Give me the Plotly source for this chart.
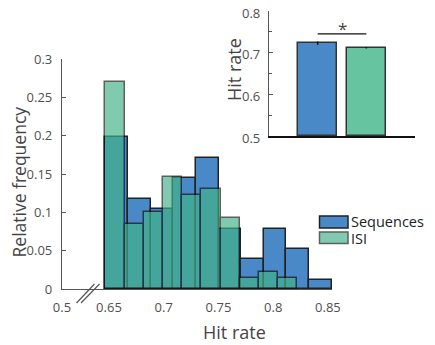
import plotly.graph_objects as go

# ---------------- data ----------------
seq_edges = [0.6468, 0.6675, 0.6881, 0.7088, 0.7294, 0.7501, 0.7708, 0.7914, 0.8121, 0.8327, 0.8534]
seq_freq = [0.198, 0.118, 0.105, 0.145, 0.171, 0.078, 0.039, 0.078, 0.052, 0.012]
isi_edges = [0.6468, 0.6643, 0.6818, 0.6994, 0.7169, 0.7344, 0.7519, 0.7694, 0.7870, 0.8045, 0.8220]
isi_freq = [0.270, 0.085, 0.100, 0.146, 0.123, 0.131, 0.092, 0.014, 0.022, 0.014]

x_tick_vals = [0.6071, 0.65, 0.70, 0.75, 0.80, 0.85]
x_tick_text = ["0.5", "0.65", "0.7", "0.75", "0.8", "0.85"]
y_tick_vals = [0, 0.05, 0.1, 0.15, 0.2, 0.25, 0.3]
y_tick_text = ["0", "0.05", "0.1", "0.15", "0.2", "0.25", "0.3"]

inset_groups = ["Sequences", "ISI"]
inset_pos = [1, 2]
inset_means = [0.723, 0.712]
inset_err = [0.004, 0.002]
inset_base = 0.5
inset_ticks = [0.5, 0.6, 0.7, 0.8]
sig_y = 0.745

# ---------------- style ----------------
BLUE = "#4A89C8"
GREEN = "rgb(66,179,136)"
GREEN_OPA = 0.67
INSET_GREEN = "#66C4A0"
FONT = "Open Sans"
TICK_C = "#505050"
TITLE_C = "#444444"

# page is rendered with an 8px body margin: figure origin sits at page (8, 8)
OFF = 8
W, H = 435 - OFF, 345 - OFF
ML, MR, MT, MB = 62 - OFF, 20, 11 - OFF, 56
PW, PH = W - ML - MR, H - MT - MB


def px(xp):
    """page x pixel -> paper fraction"""
    return (xp - OFF - ML) / PW


def py(yp):
    """page y pixel -> paper fraction"""
    return (H - MB - (yp - OFF)) / PH


def centers(edges):
    return [(edges[i] + edges[i + 1]) / 2 for i in range(len(edges) - 1)]


def widths(edges):
    return [edges[i + 1] - edges[i] for i in range(len(edges) - 1)]


fig = go.Figure()

fig.add_trace(go.Bar(
    x=centers(seq_edges), y=seq_freq, width=widths(seq_edges),
    marker=dict(color=BLUE, line=dict(color="#222222", width=1.5)),
    name="Sequences", xaxis="x", yaxis="y", showlegend=False,
))
fig.add_trace(go.Bar(
    x=centers(isi_edges), y=isi_freq, width=widths(isi_edges),
    marker=dict(color=GREEN, line=dict(color="#111111", width=1.5)),
    opacity=GREEN_OPA,
    name="ISI", xaxis="x", yaxis="y", showlegend=False,
))

# inset
fig.add_trace(go.Bar(
    x=inset_pos, y=[m - inset_base for m in inset_means], base=inset_base, width=0.8,
    marker=dict(color=[BLUE, INSET_GREEN], line=dict(color="#333333", width=1.5)),
    xaxis="x2", yaxis="y2", showlegend=False,
))
fig.add_trace(go.Scatter(
    x=inset_pos, y=inset_means, mode="markers",
    marker=dict(size=1, color="rgba(0,0,0,0)"),
    error_y=dict(type="data", array=inset_err, color="#111111", thickness=1.5, width=0),
    xaxis="x2", yaxis="y2", showlegend=False, hoverinfo="skip",
))

main_x_dom = [0, px(332)]
main_y_dom = [0, py(59)]

fig.update_layout(
    width=W, height=H, autosize=False, showlegend=False,
    margin=dict(l=ML, r=MR, t=MT, b=MB, pad=0, autoexpand=False),
    paper_bgcolor="white", plot_bgcolor="rgba(0,0,0,0)",
    barmode="overlay", bargap=0,
    font=dict(family=FONT, color=TICK_C, size=13),
    xaxis=dict(
        domain=main_x_dom, range=[x_tick_vals[0], 0.8537],
        tickvals=x_tick_vals, ticktext=x_tick_text, ticks="",
        showline=True, linecolor="#555555", linewidth=1.2,
        showgrid=False, zeroline=False, ticklabelstandoff=6,
        tickfont=dict(size=13, color=TICK_C), anchor="y", automargin=False,
    ),
    yaxis=dict(
        domain=main_y_dom, range=[0, 0.3],
        tickvals=y_tick_vals, ticktext=y_tick_text,
        ticks="inside", ticklen=4, tickcolor="#555555",
        showline=True, linecolor="#555555", linewidth=1.2,
        showgrid=False, zeroline=False, ticklabelstandoff=6,
        tickfont=dict(size=13, color=TICK_C), anchor="x", automargin=False,
    ),
    xaxis2=dict(
        domain=[px(269), 1.0], range=[0, 3],
        showticklabels=False, ticks="",
        showline=True, linecolor="#111111", linewidth=1.5,
        showgrid=False, zeroline=False, anchor="y2", automargin=False,
    ),
    yaxis2=dict(
        domain=[py(136.3), 1.0], range=[0.5, 0.8],
        tickvals=inset_ticks, ticks="inside", ticklen=4, tickcolor="#555555",
        minor=dict(dtick=0.05, tick0=0.5, ticks="inside", ticklen=3, tickcolor="#555555"),
        showline=True, linecolor="#555555", linewidth=1.2,
        showgrid=False, zeroline=False, ticklabelstandoff=5, ticklabelshift=2,
        ticklabeloverflow="allow",
        tickfont=dict(size=13, color=TICK_C), anchor="x2", automargin=False,
    ),
)

shapes = []
# axis break marks
shapes.append(dict(type="line", xref="paper", yref="paper",
                   x0=px(76.5), y0=py(303), x1=px(94.5), y1=py(284),
                   line=dict(color="#555555", width=1.2)))
shapes.append(dict(type="line", xref="paper", yref="paper",
                   x0=px(81), y0=py(303), x1=px(99.5), y1=py(284),
                   line=dict(color="#555555", width=1.2)))
# significance line
shapes.append(dict(type="line", xref="x2", yref="y2",
                   x0=inset_pos[0], x1=inset_pos[1], y0=sig_y, y1=sig_y,
                   line=dict(color="#111111", width=1.3)))
# legend swatches
shapes.append(dict(type="rect", xref="paper", yref="paper",
                   x0=px(319.5), x1=px(348), y0=py(228), y1=py(216),
                   fillcolor=BLUE, line=dict(color="#222222", width=1.5)))
shapes.append(dict(type="rect", xref="paper", yref="paper",
                   x0=px(319.5), x1=px(348), y0=py(243.5), y1=py(232),
                   fillcolor=GREEN, opacity=GREEN_OPA, line=dict(color="#111111", width=1.5)))
fig.update_layout(shapes=shapes)

annotations = [
    dict(text="Relative frequency", xref="paper", yref="paper", x=px(19), y=py(182.5),
         textangle=-90, showarrow=False, xanchor="center", yanchor="middle",
         font=dict(size=17.5, color=TITLE_C, family=FONT)),
    dict(text="Hit rate", xref="paper", yref="paper", x=px(234), y=py(332),
         showarrow=False, xanchor="center", yanchor="middle",
         font=dict(size=18, color=TITLE_C, family=FONT)),
    dict(text="Hit rate", xref="paper", yref="paper", x=px(234), y=py(70),
         textangle=-90, showarrow=False, xanchor="center", yanchor="middle",
         font=dict(size=18, color=TITLE_C, family=FONT)),
    dict(text="*", xref="x2", yref="y2", x=sum(inset_pos) / 2, y=sig_y + 0.013,
         showarrow=False, xanchor="center", yanchor="middle",
         font=dict(size=17, color=TITLE_C, family=FONT)),
    dict(text="Sequences", xref="paper", yref="paper", x=px(348.5), y=py(222),
         showarrow=False, xanchor="left", yanchor="middle",
         font=dict(size=14.5, color="#222222", family=FONT)),
    dict(text="ISI", xref="paper", yref="paper", x=px(348.5), y=py(238.5),
         showarrow=False, xanchor="left", yanchor="middle",
         font=dict(size=14.5, color="#222222", family=FONT)),
]
fig.update_layout(annotations=annotations)

fig.write_html("out.html")
